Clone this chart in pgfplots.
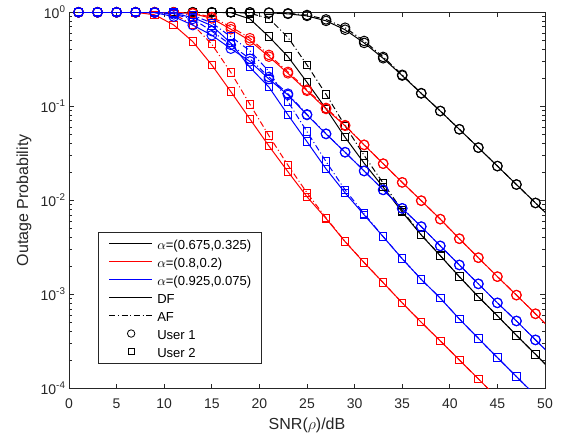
\documentclass[border=0pt]{standalone}
\usepackage{pgfplots}
\pgfplotsset{compat=1.18}
\usepackage{fontspec}
\setmainfont{Liberation Sans}
\definecolor{axgray}{rgb}{0.15,0.15,0.15}
\pgfplotsset{
  df/.style={solid, line width=0.75pt},
  af/.style={dash pattern=on 4.5pt off 2pt on 0.8pt off 2pt, line width=0.75pt},
  u1/.style={mark=o, mark size=3.6pt, mark options={solid}},
  u2/.style={mark=square, mark size=2.8pt, mark options={solid}},
  legblack/.style={legend image code/.code={\pgfsetlinewidth{0.75pt}\pgfsetstrokecolor{black}\pgfpathmoveto{\pgfqpoint{0pt}{0pt}}\pgfpathlineto{\pgfqpoint{32.5pt}{0pt}}\pgfusepath{stroke}}},
  legred/.style={legend image code/.code={\pgfsetlinewidth{0.75pt}\pgfsetstrokecolor{red}\pgfpathmoveto{\pgfqpoint{0pt}{0pt}}\pgfpathlineto{\pgfqpoint{32.5pt}{0pt}}\pgfusepath{stroke}}},
  legblue/.style={legend image code/.code={\pgfsetlinewidth{0.75pt}\pgfsetstrokecolor{blue}\pgfpathmoveto{\pgfqpoint{0pt}{0pt}}\pgfpathlineto{\pgfqpoint{32.5pt}{0pt}}\pgfusepath{stroke}}},
  legaf/.style={legend image code/.code={\pgfsetlinewidth{0.75pt}\pgfsetstrokecolor{black}\pgfsetdash{{4.5pt}{2pt}{0.8pt}{2pt}}{0pt}\pgfpathmoveto{\pgfqpoint{0pt}{0pt}}\pgfpathlineto{\pgfqpoint{32.5pt}{0pt}}\pgfusepath{stroke}}},
  legu1/.style={legend image code/.code={\draw[black, line width=0.6pt] plot[mark=o, mark size=2.8pt] coordinates {(16.5pt,0pt)};}},
  legu2/.style={legend image code/.code={\draw[black, line width=0.6pt] plot[mark=square, mark size=2.1pt] coordinates {(16.5pt,0pt)};}},
}
\begin{document}
\begin{tikzpicture}
\begin{axis}[
  scale only axis, width=357pt, height=282pt,
  xmin=0, xmax=50, ymin=1e-4, ymax=1, ymode=log,
  xtick={0,5,...,50},
  ytick={1e-4,1e-3,1e-2,1e-1,1},
  yticklabels={10\textsuperscript{-4},10\textsuperscript{-3},10\textsuperscript{-2},10\textsuperscript{-1},10\textsuperscript{0}},
  minor ytick={2e-4,3e-4,4e-4,5e-4,6e-4,7e-4,8e-4,9e-4,
    2e-3,3e-3,4e-3,5e-3,6e-3,7e-3,8e-3,9e-3,
    2e-2,3e-2,4e-2,5e-2,6e-2,7e-2,8e-2,9e-2,
    0.2,0.3,0.4,0.5,0.6,0.7,0.8,0.9},
  tick align=inside, major tick length=3.5pt, minor tick length=2pt,
  axis line style={axgray, line width=0.5pt},
  every tick/.style={axgray, line width=0.5pt},
  /pgf/number format/assume math mode=true,
  tick label style={font=\fontsize{10.5}{12}\selectfont, color=axgray},
  xticklabel style={yshift=-4.5pt},
  yticklabel style={xshift=1pt},
  label style={font=\fontsize{12}{14}\selectfont, color=axgray},
  xlabel={SNR($\rho$)/dB},
  ylabel={Outage Probability},
  legend cell align=left,
  legend style={at={(0.0616,0.0665)}, anchor=south west, draw=axgray, line width=0.5pt,
    font=\fontsize{9.8}{11}\selectfont, inner xsep=7.5pt, inner ysep=3.9pt,
    row sep=4.2pt, column sep=3.2pt,
    nodes={inner sep=0pt, text height=9.3pt, text depth=0pt}},
]
% black: alpha=(0.675,0.325)
\addplot[black, df, u1, mark indices={1,...,25}, forget plot] coordinates {
(1,1)(3,1)(5,1)(7,1)(9,1)(11,1)(13,1)(15,1)(17,0.999)(19,0.996)(21,0.987)(23,0.962)(25,0.915)(27,0.81)(29,0.652)(31,0.472)(33,0.324)(35,0.212)(37,0.137)(39,0.089)(41,0.0569)(43,0.0363)(45,0.0231)(47,0.0147)(49,0.00936)(51,0.00596)};
\addplot[black, af, u1, mark indices={1,...,25}, forget plot] coordinates {
(1,1)(3,1)(5,1)(7,1)(9,1)(11,1)(13,1)(15,1)(17,1)(19,0.998)(21,0.992)(23,0.975)(25,0.935)(27,0.84)(29,0.685)(31,0.495)(33,0.335)(35,0.216)(37,0.138)(39,0.089)(41,0.0569)(43,0.0363)(45,0.0231)(47,0.0147)(49,0.00936)(51,0.00596)};
\addplot[black, df, u2, mark indices={1,...,25}, forget plot] coordinates {
(1,1)(3,1)(5,1)(7,1)(9,1)(11,1)(13,1)(15,1)(17,0.99)(19,0.85)(21,0.55)(23,0.337)(25,0.18)(27,0.094)(29,0.0468)(31,0.0248)(33,0.0138)(35,0.0075)(37,0.00427)(39,0.00257)(41,0.00154)(43,0.00094)(45,0.00059)(47,0.000366)(49,0.00023)(51,0.000144)};
\addplot[black, af, u2, mark indices={1,...,25}, forget plot] coordinates {
(1,1)(3,1)(5,1)(7,1)(9,1)(11,1)(13,1)(15,1)(17,0.998)(19,0.975)(21,0.86)(23,0.54)(25,0.275)(27,0.134)(29,0.062)(31,0.030)(33,0.0152)(35,0.0078)(37,0.0043)(39,0.00258)(41,0.00154)(43,0.00094)(45,0.00059)(47,0.000366)(49,0.00023)(51,0.000144)};
% red: alpha=(0.8,0.2)
\addplot[red, df, u1, mark indices={1,...,25}, forget plot] coordinates {
(1,1)(3,1)(5,1)(7,1)(9,1)(11,0.996)(13,0.97)(15,0.86)(17,0.66)(19,0.50)(21,0.337)(23,0.224)(25,0.146)(27,0.0936)(29,0.062)(31,0.0388)(33,0.0245)(35,0.0155)(37,0.0099)(39,0.0063)(41,0.0039)(43,0.00245)(45,0.00154)(47,0.00098)(49,0.00062)(51,0.00039)};
\addplot[red, af, u1, mark indices={1,...,25}, forget plot] coordinates {
(1,1)(3,1)(5,1)(7,1)(9,1)(11,0.998)(13,0.98)(15,0.89)(17,0.70)(19,0.53)(21,0.352)(23,0.232)(25,0.15)(27,0.096)(29,0.063)(31,0.0389)(33,0.0245)(35,0.0155)(37,0.0099)(39,0.0063)(41,0.0039)(43,0.00245)(45,0.00154)(47,0.00098)(49,0.00062)(51,0.00039)};
\addplot[red, df, u2, mark indices={1,...,22}, forget plot] coordinates {
(1,1)(3,1)(5,1)(7,0.998)(9,0.94)(11,0.733)(13,0.487)(15,0.275)(17,0.143)(19,0.0733)(21,0.0378)(23,0.0201)(25,0.0109)(27,0.0064)(29,0.00363)(31,0.00217)(33,0.00133)(35,0.00081)(37,0.000504)(39,0.000319)(41,0.0002)(43,0.000126)(45,0.000079)};
\addplot[red, af, u2, mark indices={1,...,22}, forget plot] coordinates {
(1,1)(3,1)(5,1)(7,1)(9,0.995)(11,0.955)(13,0.74)(15,0.457)(17,0.229)(19,0.105)(21,0.0486)(23,0.0236)(25,0.012)(27,0.0065)(29,0.00365)(31,0.00218)(33,0.00133)(35,0.00081)(37,0.000504)(39,0.000319)(41,0.0002)(43,0.000126)(45,0.000079)};
% blue: alpha=(0.925,0.075)
\addplot[blue, df, u1, mark indices={1,...,25}, forget plot] coordinates {
(1,1)(3,1)(5,1)(7,1)(9,0.99)(11,0.90)(13,0.73)(15,0.57)(17,0.41)(19,0.30)(21,0.195)(23,0.132)(25,0.0808)(27,0.0507)(29,0.0324)(31,0.0205)(33,0.0129)(35,0.0082)(37,0.00524)(39,0.00327)(41,0.00205)(43,0.00129)(45,0.00081)(47,0.00052)(49,0.000327)(51,0.000207)};
\addplot[blue, af, u1, mark indices={1,...,25}, forget plot] coordinates {
(1,1)(3,1)(5,1)(7,1)(9,0.995)(11,0.95)(13,0.85)(15,0.63)(17,0.45)(19,0.32)(21,0.205)(23,0.136)(25,0.082)(27,0.051)(29,0.0325)(31,0.0205)(33,0.0129)(35,0.0082)(37,0.00524)(39,0.00327)(41,0.00205)(43,0.00129)(45,0.00081)(47,0.00052)(49,0.000327)(51,0.000207)};
\addplot[blue, df, u2, mark indices={1,...,24}, forget plot] coordinates {
(1,1)(3,1)(5,1)(7,1)(9,1)(11,0.97)(13,0.88)(15,0.72)(17,0.47)(19,0.26)(21,0.16)(23,0.081)(25,0.042)(27,0.0216)(29,0.012)(31,0.007)(33,0.0041)(35,0.00239)(37,0.00144)(39,0.00091)(41,0.000546)(43,0.00034)(45,0.000212)(47,0.000133)(49,0.000084)};
\addplot[blue, af, u2, mark indices={1,...,24}, forget plot] coordinates {
(1,1)(3,1)(5,1)(7,1)(9,1)(11,0.99)(13,0.93)(15,0.77)(17,0.55)(19,0.39)(21,0.235)(23,0.112)(25,0.0537)(27,0.0258)(29,0.0129)(31,0.0072)(33,0.0041)(35,0.00239)(37,0.00144)(39,0.00091)(41,0.000546)(43,0.00034)(45,0.000212)(47,0.000133)(49,0.000084)};
% legend
\addlegendimage{legblack}
\addlegendentry{$\alpha$=(0.675,0.325)}
\addlegendimage{legred}
\addlegendentry{$\alpha$=(0.8,0.2)}
\addlegendimage{legblue}
\addlegendentry{$\alpha$=(0.925,0.075)}
\addlegendimage{legblack}
\addlegendentry{DF}
\addlegendimage{legaf}
\addlegendentry{AF}
\addlegendimage{legu1}
\addlegendentry{User 1}
\addlegendimage{legu2}
\addlegendentry{User 2}
\end{axis}
\path ([xshift=-51.75pt, yshift=-36.5pt]current axis.south west) rectangle ([xshift=12.75pt, yshift=9.2pt]current axis.north east);
\end{tikzpicture}
\end{document}
